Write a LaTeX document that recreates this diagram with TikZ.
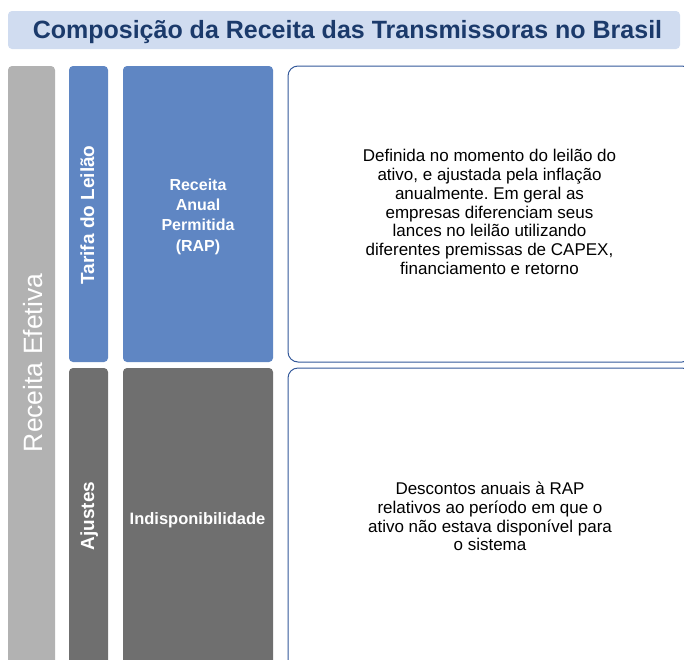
\documentclass[tikz,border=0pt]{standalone}
\usepackage{fontspec}
\setmainfont{Liberation Sans}
\frenchspacing
\definecolor{navy}{HTML}{1B3A6B}
\definecolor{bannerblue}{HTML}{D0DCF0}
\definecolor{rapblue}{HTML}{5F86C3}
\definecolor{lightgrey}{HTML}{B2B2B2}
\definecolor{darkgrey}{HTML}{6F6F6F}
\definecolor{framenavy}{HTML}{34599A}

\begin{document}
\begin{tikzpicture}[
    x=1pt, y=-1pt,
    every node/.style={font=\rmfamily, inner sep=0pt},
    block/.style={rounded corners=4pt},
    descbox/.style={draw=framenavy, line width=1pt, rounded corners=10pt, fill=white},
    sidelabel/.style={anchor=base, rotate=90, white, font=\rmfamily\bfseries\fontsize{19}{21}\selectfont},
    desctext/.style={anchor=center, align=center, black, font=\rmfamily\fontsize{17}{18.8}\selectfont},
  ]

  % ---------- Page frame (pixel units, y pointing down) -------------------
  \useasboundingbox (0,0) rectangle (684,659);
  \clip (0,0) rectangle (684,659);

  % ---------- Title banner ------------------------------------------------
  \fill[bannerblue, rounded corners=4pt] (8,11) rectangle (680,49);
  \node[anchor=base, navy, font=\rmfamily\bfseries\fontsize{25}{28}\selectfont] (title)
    at (347.5,38.5) {Composição da Receita das Transmissoras no Brasil};

  % ---------- Left column: receita efetiva --------------------------------
  \fill[lightgrey, block] (8,66) rectangle (55,668);
  \node[anchor=base, rotate=90, white, font=\rmfamily\fontsize{26.5}{28}\selectfont] (efetiva)
    at (42,363) {Receita Efetiva};

  % ---------- Second column: tarifa / ajustes -----------------------------
  \fill[rapblue, block] (69,66) rectangle (108,362);
  \node[sidelabel] (tarifa) at (94,215) {Tarifa do Leilão};

  \fill[darkgrey, block] (69,368) rectangle (108,668);
  \node[sidelabel] (ajustes) at (94,516) {Ajustes};

  % ---------- Third column: components ------------------------------------
  \fill[rapblue, block] (123,66) rectangle (273,362);
  \node[anchor=center, align=center, white, font=\rmfamily\bfseries\fontsize{16}{20.3}\selectfont] (rap)
    at (198,216.5) {Receita\\Anual\\Permitida\\(RAP)};

  \fill[darkgrey, block] (123,368) rectangle (273,668);
  \node[anchor=base, white, font=\rmfamily\bfseries\fontsize{16.5}{20}\selectfont] (indisp)
    at (197.5,524) {Indisponibilidade};

  % ---------- Right column: descriptions (run off the page edge) ----------
  \draw[descbox] (288,66) rectangle (692,362);
  \node[desctext] (rapdesc) at (489.5,212) {Definida no momento do leilão do\\
    ativo, e ajustada pela inflação\\
    anualmente. Em geral as\\
    empresas diferenciam seus\\
    lances no leilão utilizando\\
    diferentes premissas de CAPEX,\\
    financiamento e retorno};

  \draw[descbox] (288,368) rectangle (692,670);
  \node[desctext] (indispdesc) at (490,516.5) {Descontos anuais à RAP\\
    relativos ao período em que o\\
    ativo não estava disponível para\\
    o sistema};

\end{tikzpicture}
\end{document}
